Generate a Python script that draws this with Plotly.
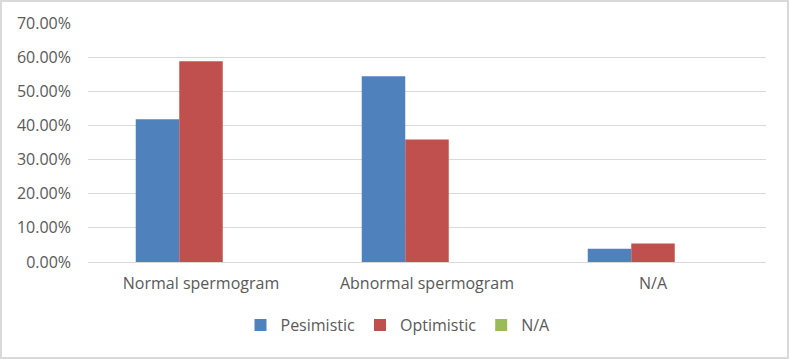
import plotly.graph_objects as go

categories = ["Normal spermogram", "Abnormal spermogram", "N/A"]
pesimistic = [0.418, 0.544, 0.039]
optimistic = [0.588, 0.359, 0.054]
na_series = [0.0, 0.0, 0.0]
y_ticks = [0, 0.1, 0.2, 0.3, 0.4, 0.5, 0.6, 0.7]

W, H = 789, 359
L, R, T, B = 88, 766, 23, 262
FONT = "Open Sans"
TXT = "#595959"

fig = go.Figure()
fig.add_trace(go.Bar(name="Pesimistic", x=categories, y=pesimistic,
                     marker=dict(color="#4F81BD", line=dict(width=0))))
fig.add_trace(go.Bar(name="Optimistic", x=categories, y=optimistic,
                     marker=dict(color="#C0504D", line=dict(width=0))))
fig.add_trace(go.Bar(name="N/A", x=categories, y=na_series,
                     marker=dict(color="#9BBB59", line=dict(width=0))))

def px_x(p):
    return (p - L) / (R - L)

def px_y(p):
    return (B - p) / (B - T)

fig.update_layout(
    width=W, height=H,
    margin=dict(l=L, r=W - R, t=T, b=H - B, pad=0, autoexpand=False),
    paper_bgcolor="white", plot_bgcolor="white",
    barmode="group", bargap=0.4225, bargroupgap=0,
    font=dict(family=FONT, size=16, color=TXT),
    showlegend=True,
    legend=dict(orientation="h", x=px_x(398), xanchor="center", y=px_y(325), yanchor="middle",
                font=dict(family=FONT, size=16, color=TXT), bgcolor="rgba(0,0,0,0)",
                itemwidth=30, traceorder="normal"),
    xaxis=dict(showgrid=False, showline=False, ticks="", zeroline=False, automargin=False,
               tickfont=dict(family=FONT, size=16, color=TXT), ticklabelstandoff=10),
    yaxis=dict(range=[0, 0.7], tickvals=y_ticks, tickformat=".2%", showgrid=True,
               gridcolor="#D9D9D9", gridwidth=1, zeroline=True, zerolinecolor="#D9D9D9",
               zerolinewidth=1, showline=False, ticks="", automargin=False,
               tickfont=dict(family=FONT, size=16, color=TXT), ticklabelstandoff=16),
    shapes=[dict(type="rect", xref="paper", yref="paper",
                 x0=px_x(1), x1=px_x(788), y0=px_y(358), y1=px_y(1),
                 line=dict(color="#D9D9D9", width=2), fillcolor="rgba(0,0,0,0)", layer="above")],
)

fig.write_html("out.html", config={"displayModeBar": False},
               post_script="document.body.style.margin='0';document.body.style.overflow='hidden';")
